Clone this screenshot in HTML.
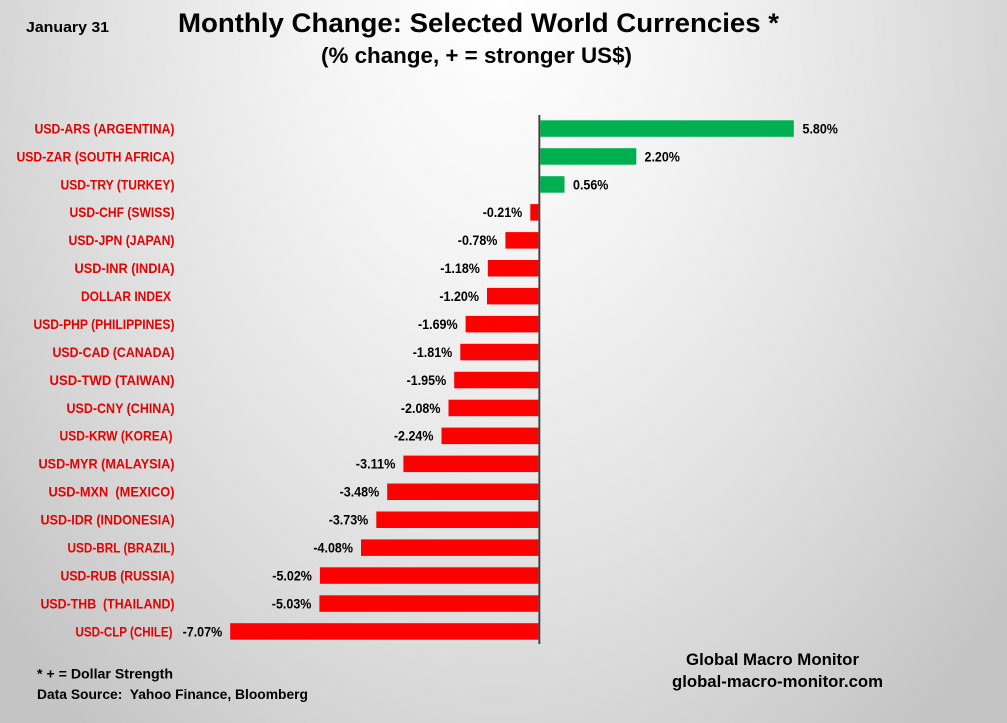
<!DOCTYPE html>
<html>
<head>
<meta charset="utf-8">
<style>
  html, body { margin: 0; padding: 0; }
  body { width: 1007px; height: 723px; overflow: hidden; }
  .wrap {
    position: relative; width: 1007px; height: 723px;
    background: radial-gradient(ellipse 650px 950px at 500px 0px, #ffffff 0%, #f3f3f3 30%, #e2e2e2 60%, #d4d4d4 80%, #c4c4c4 100%);
  }
  svg { position: absolute; left: 0; top: 0; }
  text { font-family: "Liberation Sans", Arial, sans-serif; font-weight: bold; }
  .lab { fill: #e60000; font-size: 13.5px; }
  .val { fill: #000; font-size: 13.5px; }
</style>
</head>
<body>
<div class="wrap">
<svg width="1007" height="723" viewBox="0 0 1007 723" xmlns="http://www.w3.org/2000/svg">
  <!-- headers -->
  <text x="26" y="32" font-size="14.5" textLength="83" lengthAdjust="spacingAndGlyphs" fill="#000">January 31</text>
  <text x="178" y="32" font-size="27" textLength="601" lengthAdjust="spacingAndGlyphs" fill="#000">Monthly Change: Selected World Currencies *</text>
  <text x="321" y="63" font-size="22.5" textLength="311" lengthAdjust="spacingAndGlyphs" fill="#000">(% change, + = stronger US$)</text>

  <!-- axis -->
  <rect x="538.4" y="115" width="1.9" height="529" fill="#404040"/>

  <!-- bars -->
  <g>
    <rect x="540.3" y="120.3" width="253.5" height="16.5" fill="#00b050"/>
    <rect x="540.3" y="148.2" width="96" height="16.5" fill="#00b050"/>
    <rect x="540.3" y="176.2" width="24.2" height="16.5" fill="#00b050"/>
    <rect x="530.3" y="204.1" width="8.1" height="16.5" fill="#ff0000"/>
    <rect x="505.4" y="232.1" width="33" height="16.5" fill="#ff0000"/>
    <rect x="487.9" y="260.0" width="50.5" height="16.5" fill="#ff0000"/>
    <rect x="487.0" y="287.9" width="51.4" height="16.5" fill="#ff0000"/>
    <rect x="465.6" y="315.9" width="72.8" height="16.5" fill="#ff0000"/>
    <rect x="460.3" y="343.8" width="78.1" height="16.5" fill="#ff0000"/>
    <rect x="454.2" y="371.8" width="84.2" height="16.5" fill="#ff0000"/>
    <rect x="448.5" y="399.7" width="89.9" height="16.5" fill="#ff0000"/>
    <rect x="441.5" y="427.6" width="96.9" height="16.5" fill="#ff0000"/>
    <rect x="403.4" y="455.6" width="135" height="16.5" fill="#ff0000"/>
    <rect x="387.2" y="483.5" width="151.2" height="16.5" fill="#ff0000"/>
    <rect x="376.3" y="511.5" width="162.1" height="16.5" fill="#ff0000"/>
    <rect x="361.0" y="539.4" width="177.4" height="16.5" fill="#ff0000"/>
    <rect x="319.9" y="567.3" width="218.5" height="16.5" fill="#ff0000"/>
    <rect x="319.4" y="595.3" width="219" height="16.5" fill="#ff0000"/>
    <rect x="230.2" y="623.2" width="308.2" height="16.5" fill="#ff0000"/>
  </g>

  <!-- category labels -->
  <g class="lab" text-anchor="end">
    <text x="174.5" y="133.4" textLength="140" lengthAdjust="spacingAndGlyphs">USD-ARS (ARGENTINA)</text>
    <text x="174.5" y="161.3" textLength="158" lengthAdjust="spacingAndGlyphs">USD-ZAR (SOUTH AFRICA)</text>
    <text x="174.5" y="189.3" textLength="114" lengthAdjust="spacingAndGlyphs">USD-TRY (TURKEY)</text>
    <text x="174.5" y="217.2" textLength="105" lengthAdjust="spacingAndGlyphs">USD-CHF (SWISS)</text>
    <text x="174.5" y="245.2" textLength="106" lengthAdjust="spacingAndGlyphs">USD-JPN (JAPAN)</text>
    <text x="174.5" y="273.1" textLength="100" lengthAdjust="spacingAndGlyphs">USD-INR (INDIA)</text>
    <text x="171" y="301.0" textLength="90" lengthAdjust="spacingAndGlyphs">DOLLAR INDEX</text>
    <text x="174.5" y="329.0" textLength="141" lengthAdjust="spacingAndGlyphs">USD-PHP (PHILIPPINES)</text>
    <text x="174.5" y="356.9" textLength="122" lengthAdjust="spacingAndGlyphs">USD-CAD (CANADA)</text>
    <text x="174.5" y="384.9" textLength="125" lengthAdjust="spacingAndGlyphs">USD-TWD (TAIWAN)</text>
    <text x="174.5" y="412.8" textLength="108" lengthAdjust="spacingAndGlyphs">USD-CNY (CHINA)</text>
    <text x="172.5" y="440.7" textLength="113" lengthAdjust="spacingAndGlyphs">USD-KRW (KOREA)</text>
    <text x="174.5" y="468.7" textLength="136" lengthAdjust="spacingAndGlyphs">USD-MYR (MALAYSIA)</text>
    <text x="174.5" y="496.6" textLength="126" lengthAdjust="spacingAndGlyphs">USD-MXN&#160; (MEXICO)</text>
    <text x="174.5" y="524.6" textLength="134" lengthAdjust="spacingAndGlyphs">USD-IDR (INDONESIA)</text>
    <text x="174.5" y="552.5" textLength="107" lengthAdjust="spacingAndGlyphs">USD-BRL (BRAZIL)</text>
    <text x="174.5" y="580.4" textLength="114" lengthAdjust="spacingAndGlyphs">USD-RUB (RUSSIA)</text>
    <text x="174.5" y="608.4" textLength="134" lengthAdjust="spacingAndGlyphs">USD-THB&#160; (THAILAND)</text>
    <text x="172.5" y="636.3" textLength="97" lengthAdjust="spacingAndGlyphs">USD-CLP (CHILE)</text>
  </g>

  <!-- value labels -->
  <g class="val">
    <text x="802.5" y="133.4" textLength="35.4" lengthAdjust="spacingAndGlyphs">5.80%</text>
    <text x="644.5" y="161.3" textLength="35.4" lengthAdjust="spacingAndGlyphs">2.20%</text>
    <text x="573" y="189.3" textLength="35.4" lengthAdjust="spacingAndGlyphs">0.56%</text>
  </g>
  <g class="val" text-anchor="end">
    <text x="522.3" y="217.2" textLength="39.6" lengthAdjust="spacingAndGlyphs">-0.21%</text>
    <text x="497.4" y="245.2" textLength="39.6" lengthAdjust="spacingAndGlyphs">-0.78%</text>
    <text x="479.9" y="273.1" textLength="39.6" lengthAdjust="spacingAndGlyphs">-1.18%</text>
    <text x="479.0" y="301.0" textLength="39.6" lengthAdjust="spacingAndGlyphs">-1.20%</text>
    <text x="457.6" y="329.0" textLength="39.6" lengthAdjust="spacingAndGlyphs">-1.69%</text>
    <text x="452.3" y="356.9" textLength="39.6" lengthAdjust="spacingAndGlyphs">-1.81%</text>
    <text x="446.2" y="384.9" textLength="39.6" lengthAdjust="spacingAndGlyphs">-1.95%</text>
    <text x="440.5" y="412.8" textLength="39.6" lengthAdjust="spacingAndGlyphs">-2.08%</text>
    <text x="433.5" y="440.7" textLength="39.6" lengthAdjust="spacingAndGlyphs">-2.24%</text>
    <text x="395.4" y="468.7" textLength="39.6" lengthAdjust="spacingAndGlyphs">-3.11%</text>
    <text x="379.2" y="496.6" textLength="39.6" lengthAdjust="spacingAndGlyphs">-3.48%</text>
    <text x="368.3" y="524.6" textLength="39.6" lengthAdjust="spacingAndGlyphs">-3.73%</text>
    <text x="353.0" y="552.5" textLength="39.6" lengthAdjust="spacingAndGlyphs">-4.08%</text>
    <text x="311.9" y="580.4" textLength="39.6" lengthAdjust="spacingAndGlyphs">-5.02%</text>
    <text x="311.4" y="608.4" textLength="39.6" lengthAdjust="spacingAndGlyphs">-5.03%</text>
    <text x="222.2" y="636.3" textLength="39.6" lengthAdjust="spacingAndGlyphs">-7.07%</text>
  </g>

  <!-- footer -->
  <text x="37" y="678.5" font-size="13.5" textLength="136" lengthAdjust="spacingAndGlyphs" fill="#000">* + = Dollar Strength</text>
  <text x="37" y="699" font-size="13.5" textLength="271" lengthAdjust="spacingAndGlyphs" fill="#000">Data Source:&#160; Yahoo Finance, Bloomberg</text>
  <text x="686" y="665" font-size="16.5" textLength="173" lengthAdjust="spacingAndGlyphs" fill="#000">Global Macro Monitor</text>
  <text x="672" y="687" font-size="16.5" textLength="211" lengthAdjust="spacingAndGlyphs" fill="#000">global-macro-monitor.com</text>
</svg>
</div>
</body>
</html>
